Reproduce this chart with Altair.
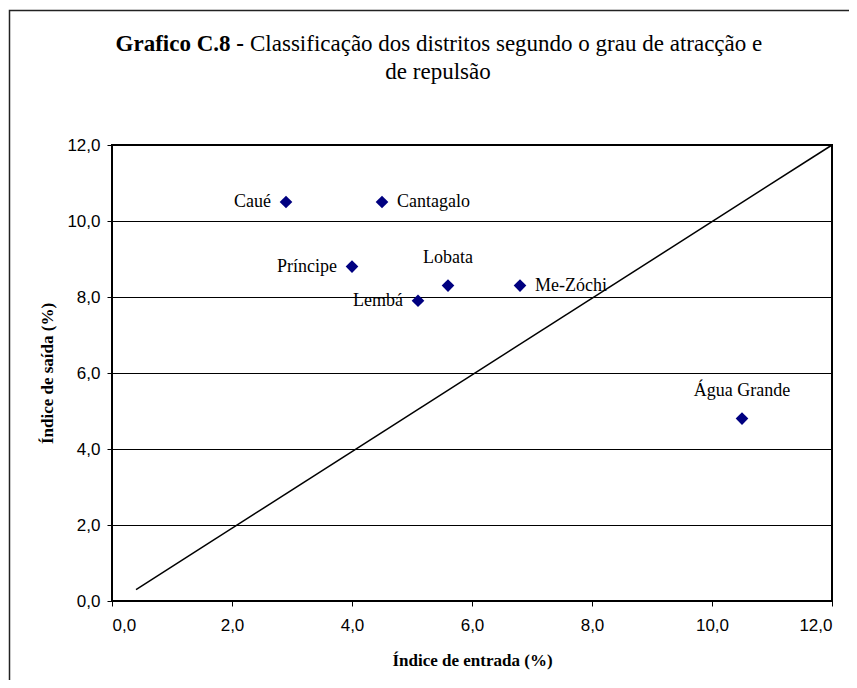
import altair as alt
import pandas as pd

# ---- data ----
DISTRICTS = ["Caué", "Cantagalo", "Príncipe", "Lobata", "Lembá", "Me-Zóchi", "Água Grande"]
ENTRADA = [2.9, 4.5, 4.0, 5.6, 5.1, 6.8, 10.5]   # x: Índice de entrada (%)
SAIDA = [10.5, 10.5, 8.8, 8.3, 7.9, 8.3, 4.8]     # y: Índice de saída (%)
DIAG_X = [0.4, 12.0]
DIAG_Y = [0.3, 12.0]
TICKS = [0, 2, 4, 6, 8, 10, 12]
TITLE_BOLD = "Grafico C.8 -"
TITLE_REST = "Classificação dos distritos segundo o grau de atracção e"
TITLE_LINE2 = "de repulsão"
X_TITLE = "Índice de entrada (%)"
Y_TITLE = "Índice de saída (%)"

# label placement (style)
LABEL_SIDE = {"Caué": "left", "Cantagalo": "right", "Príncipe": "left", "Lobata": "above",
              "Lembá": "left", "Me-Zóchi": "right", "Água Grande": "above"}

df = pd.DataFrame({"name": DISTRICTS, "x": ENTRADA, "y": SAIDA})
df["side"] = df["name"].map(LABEL_SIDE)
diag = pd.DataFrame({"x": DIAG_X, "y": DIAG_Y})

SERIF = "Liberation Serif"
SANS = "Liberation Sans"
fmt = "replace(format(datum.value, '.1f'), '.', ',')"

xs = alt.Scale(domain=[0, 12], nice=False, zero=False)
ys = alt.Scale(domain=[0, 12], nice=False, zero=False)

x_axis = alt.Axis(values=TICKS, labelExpr=fmt, grid=False, domain=False, ticks=True,
                  tickSize=5, tickColor="black", labelFont=SANS, labelFontSize=17,
                  labelColor="black", labelPadding=11, title=X_TITLE, titleFont=SERIF,
                  titleFontSize=17, titleFontWeight="bold", titleColor="black",
                  titleX=360, titleY=64, titleBaseline="alphabetic", titleAlign="center")
y_axis = alt.Axis(values=TICKS, labelExpr=fmt, grid=True, gridColor="black", gridWidth=1,
                  domain=False, ticks=True, tickSize=5, tickColor="black", labelFont=SANS,
                  labelFontSize=17, labelColor="black", labelPadding=7, title=Y_TITLE,
                  titleFont=SERIF, titleFontSize=17, titleFontWeight="bold",
                  titleColor="black", titleX=-65, titleY=228, titleAngle=-90,
                  titleBaseline="middle", titleAlign="center")

base = alt.Chart(df)

points = base.mark_point(shape="diamond", filled=True, size=160, color="#000080", opacity=1).encode(
    x=alt.X("x:Q", scale=xs, axis=x_axis),
    y=alt.Y("y:Q", scale=ys, axis=y_axis),
)

line = alt.Chart(diag).mark_line(color="black", strokeWidth=1.5).encode(
    x=alt.X("x:Q", scale=xs), y=alt.Y("y:Q", scale=ys))

lbl_kw = dict(font=SERIF, fontSize=18, color="black")
lab_left = base.transform_filter(alt.datum.side == "left").mark_text(
    align="right", baseline="middle", dx=-15, **lbl_kw).encode(
    x=alt.X("x:Q", scale=xs), y=alt.Y("y:Q", scale=ys), text="name:N")
lab_right = base.transform_filter(alt.datum.side == "right").mark_text(
    align="left", baseline="middle", dx=15, **lbl_kw).encode(
    x=alt.X("x:Q", scale=xs), y=alt.Y("y:Q", scale=ys), text="name:N")
lab_above = base.transform_filter(alt.datum.side == "above").mark_text(
    align="center", baseline="alphabetic", dy=-23, **lbl_kw).encode(
    x=alt.X("x:Q", scale=xs), y=alt.Y("y:Q", scale=ys), text="name:N")

t1 = alt.Chart(pd.DataFrame({"t": [TITLE_BOLD]})).mark_text(
    align="right", baseline="alphabetic", font=SERIF, fontSize=23, fontWeight="bold",
    color="black").encode(x=alt.value(132), y=alt.value(-94), text="t:N")
t2 = alt.Chart(pd.DataFrame({"t": [TITLE_REST]})).mark_text(
    align="left", baseline="alphabetic", font=SERIF, fontSize=23, color="black").encode(
    x=alt.value(138), y=alt.value(-94), text="t:N")
t3 = alt.Chart(pd.DataFrame({"t": [TITLE_LINE2]})).mark_text(
    align="center", baseline="alphabetic", font=SERIF, fontSize=23, color="black").encode(
    x=alt.value(326), y=alt.value(-66), text="t:N")

frame = alt.Chart(pd.DataFrame({"k": [0]})).mark_rect(
    fill=None, fillOpacity=0, stroke="#222", strokeWidth=1.5).encode(
    x=alt.value(-102.5), x2=alt.value(770), y=alt.value(-134.5), y2=alt.value(580))

chart = alt.layer(frame, line, points, lab_left, lab_right, lab_above, t1, t2, t3).properties(
    width=720, height=456,
    padding={"left": 104, "top": 137, "right": 17, "bottom": 79},
    autosize=alt.AutoSizeParams(type="none"),
    background="white",
).configure_view(stroke="black", strokeWidth=2)

chart.save("out.html", embed_options={"renderer": "svg", "actions": False})
